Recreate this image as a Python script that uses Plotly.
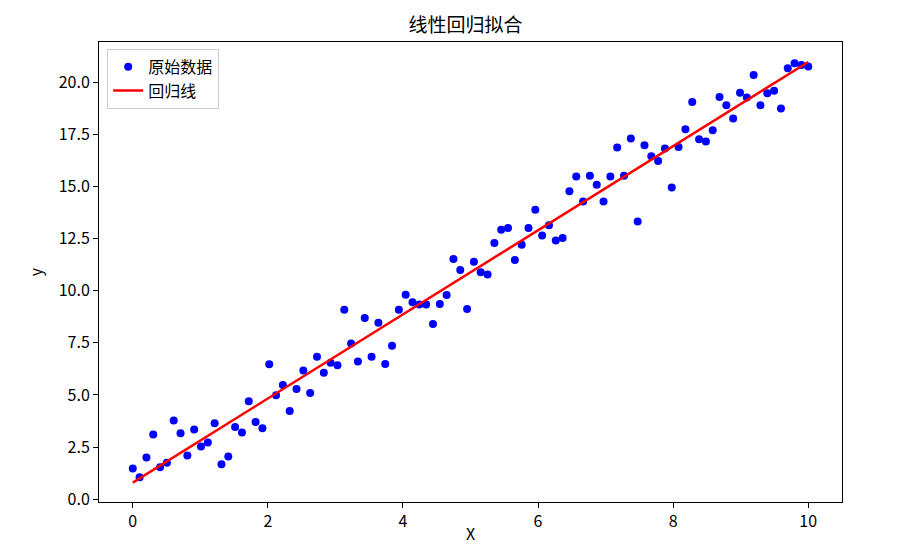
import numpy as np
import plotly.graph_objects as go

# 原始数据 (100 points, x = linspace(0, 10, 100))
x = np.linspace(0, 10, 100)
y = [1.48, 1.06, 2.00, 3.11, 1.54, 1.75, 3.78, 3.16, 2.10, 3.35,
     2.53, 2.72, 3.65, 1.68, 2.05, 3.46, 3.20, 4.70, 3.70, 3.40,
     6.47, 4.99, 5.48, 4.23, 5.29, 6.17, 5.10, 6.83, 6.06, 6.55,
     6.43, 9.09, 7.47, 6.60, 8.69, 6.83, 8.46, 6.49, 7.36, 9.09,
     9.80, 9.44, 9.34, 9.34, 8.40, 9.36, 9.79, 11.52, 10.99, 9.12,
     11.39, 10.88, 10.78, 12.29, 12.92, 13.01, 11.47, 12.20, 13.01, 13.88,
     12.64, 13.13, 12.40, 12.53, 14.76, 15.47, 14.28, 15.51, 15.08, 14.28,
     15.47, 16.86, 15.51, 17.29, 13.32, 16.97, 16.44, 16.22, 16.81, 14.94,
     16.89, 17.74, 19.04, 17.26, 17.15, 17.69, 19.28, 18.89, 18.25, 19.49,
     19.26, 20.34, 18.89, 19.46, 19.58, 18.73, 20.66, 20.90, 20.82, 20.75]

# 回归线
slope, intercept = np.polyfit(x, y, 1)
y_fit = slope * x + intercept

font_name = "Noto Sans CJK SC, DejaVu Sans, sans-serif"

fig = go.Figure()
fig.add_trace(go.Scatter(x=x, y=y, mode="markers", name="原始数据",
                         marker=dict(color="blue", size=8)))
fig.add_trace(go.Scatter(x=x, y=y_fit, mode="lines", name="回归线",
                         line=dict(color="red", width=2.5)))

axis_style = dict(showgrid=False, zeroline=False, showline=True, mirror=True,
                  linecolor="black", linewidth=1, ticks="outside", ticklen=5,
                  tickcolor="black", tickfont=dict(size=16, color="black"),
                  automargin=False)

fig.update_xaxes(range=[-0.5, 10.5], tickvals=[0, 2, 4, 6, 8, 10], **axis_style)
fig.update_yaxes(range=[-0.13, 21.92], tickvals=[0, 2.5, 5, 7.5, 10, 12.5, 15, 17.5, 20],
                 ticktext=["0.0", "2.5", "5.0", "7.5", "10.0", "12.5", "15.0", "17.5", "20.0"],
                 title=dict(text="y", standoff=12, font=dict(size=16)), **axis_style)

# x label as annotation so it sits just above the bottom edge
fig.add_annotation(text="X", xref="paper", yref="paper", x=0.5, y=0,
                   xanchor="center", yanchor="top", yshift=-17,
                   showarrow=False, font=dict(size=16))

# page body adds 8px offset, so margins are shifted to keep the plot box in place
fig.update_layout(
    width=915, height=546,
    margin=dict(l=91, r=81, t=34, b=52),
    plot_bgcolor="white", paper_bgcolor="white",
    font=dict(family=font_name, size=16, color="black"),
    title=dict(text="线性回归拟合", x=0.5, xanchor="center", y=0.969,
               yanchor="middle", font=dict(size=19)),
    legend=dict(x=0.011, y=0.985, xanchor="left", yanchor="top",
                bordercolor="#cccccc", borderwidth=1, bgcolor="white",
                font=dict(size=16)),
    showlegend=True,
)

fig.write_html("out.html")
